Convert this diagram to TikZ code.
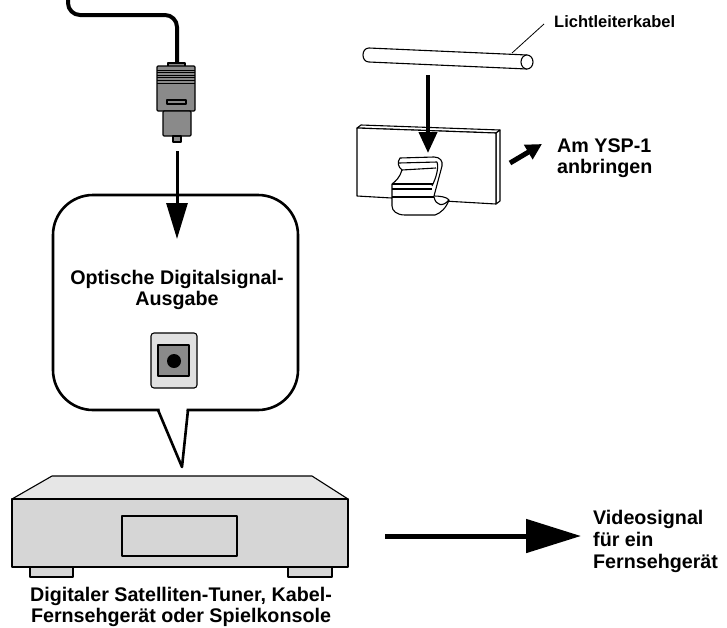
\documentclass[tikz,border=0pt]{standalone}
\usepackage{fontspec}
\setmainfont{Liberation Sans}
\usetikzlibrary{arrows.meta,positioning}
\definecolor{plugfill}{RGB}{138,138,138}
\definecolor{boxfront}{RGB}{214,214,214}
\definecolor{boxtop}{RGB}{230,230,230}
\definecolor{jackfill}{RGB}{224,224,224}
\tikzset{
  hookpic/.style={
    x=1pt
    ,y=-1pt
    ,line join=round
  }
  ,lbl/.style={ inner sep=0pt, align=center
    ,font=\bfseries\fontsize{19.7}{21}\selectfont}
  ,lblleft/.style={lbl, align=left}
  ,lblsmall/.style={ inner sep=0pt, font=\bfseries\fontsize{16.5}{18}\selectfont}
  ,thin/.style={draw=black, line width=1.1pt}
  ,part/.style={thin, fill=white}
  ,cable/.style={line width=4pt, rounded corners=12pt}
  ,plugpart/.style={thin, fill=plugfill}
  ,boxpart/.style={thin, fill=boxfront}
  ,bubble/.style={draw=black, line width=2.6pt, fill=white}
  ,downarrow/.style={line width=3pt, -{Triangle[width=21pt,length=36pt]}}
  ,cliparrow/.style={line width=4pt, -{Triangle[width=18pt,length=21pt]}}
  ,mountarrow/.style={line width=5pt, -{Triangle[width=16pt,length=16pt]}}
  ,videoarrow/.style={line width=5pt, -{Triangle[width=33pt,length=55pt]}}
}

\begin{document}
\begin{tikzpicture}[hookpic]
  \useasboundingbox (0,0) rectangle (727,627);

  % cable coming down into the plug
  \draw[cable] (68,-4) -- (68,15) -- (177,15) -- (177,64);

  % optical plug
  \draw[plugpart] (168,63) rectangle (185,67);
  \draw[plugpart, rounded corners=1pt] (157,66) rectangle (195,111);
  \foreach \y in {70,72.6,75.2,77.8,80.4,83}
    \draw[line width=.8pt] (157,\y) -- (195,\y);
  \draw[plugpart] (167,100) rectangle (186,104);
  \draw[plugpart, rounded corners=1pt] (163,111) rectangle (191,136);
  \draw[plugpart] (173,136) rectangle (181,142);

  % speech bubble with the output jack
  \draw[bubble, rounded corners=40pt] (53,195) rectangle (298,410);
  \fill[white] (159.5,405) -- (159.5,410) -- (182,465) -- (186.5,410) -- (186.5,405) -- cycle;
  \draw[line width=2.6pt] (158,410) -- (182,467) -- (188,410);

  \coordinate (plugend) at (177,151);
  \coordinate (bubbletop) at (177,239);
  \draw[downarrow] (plugend) -- (bubbletop);

  \node[lbl] (outlbl) at (177,290) {Optische Digitalsignal-\\Ausgabe};

  \draw[thin, fill=jackfill, rounded corners=3pt] (151,333) rectangle (197,388);
  \draw[thin, fill=plugfill] (158,345) rectangle (189,376);
  \fill (174,361) circle (7);

  % tuner / set-top box
  \draw[boxpart] (30,567) rectangle (73,577);
  \draw[boxpart] (288,567) rectangle (332,577);
  \draw[thin, fill=boxtop] (12,499) -- (52,476) -- (312,476) -- (348,499) -- cycle;
  \draw[boxpart] (12,499) rectangle (348,567);
  \draw[boxpart] (122,516) rectangle (237,556);

  \node[lbl] (tunerlbl) at (181,607)
    {Digitaler Satelliten-Tuner, Kabel-\\Fernsehger\"at oder Spielkonsole};

  % video output
  \coordinate (videostart) at (385,536);
  \coordinate (videoend) at (581,536);
  \draw[videoarrow] (videostart) -- (videoend);
  \node[lblleft, font=\bfseries\fontsize{19.7}{22}\selectfont, anchor=west] (videolbl) at (593,541)
    {Videosignal\\f\"ur ein\\Fernsehger\"at};

  % fibre cable
  \draw[part] (527,55) -- (369,48) .. controls (361,48) and (361,62) .. (369,62) -- (527,69);
  \draw[part] (527,62) ellipse [x radius=6, y radius=7];
  \node[lblsmall, anchor=west] (kabellbl) at (554,22) {Lichtleiterkabel};
  \coordinate (kabelpt) at (512,53);
  \draw[line width=.8pt] (kabelpt) -- ([xshift=-10pt,yshift=-2pt]kabellbl.west);

  % holder plate
  \draw[part] (357,128) -- (361,125) -- (500,130) -- (496,133) -- cycle;
  \draw[part] (496,133) -- (500,130) -- (500,201) -- (496,204) -- cycle;
  \draw[part] (357,128) -- (496,133) -- (496,204) -- (357,196) -- cycle;

  \coordinate (rodbottom) at (428,75);
  \coordinate (cliptop) at (428,153);
  \draw[cliparrow] (rodbottom) -- (cliptop);

  % clip
  \draw[part] (400,158) -- (434,157) .. controls (440,157) and (443,161) .. (442,166)
    -- (434,196) .. controls (440,196) and (447,197) .. (449,200)
    .. controls (446,208) and (441,213) .. (435,215) -- (405,215)
    .. controls (397,215) and (392,211) .. (392,206) -- (392,184)
    .. controls (396,181) and (400,177) .. (402,170)
    .. controls (398,167) and (397,162) .. (400,158) -- cycle;
  \draw[thin] (399,163) -- (437,162);
  \draw[thin] (402,170) -- (436,168);
  \draw[thin] (437,162) .. controls (439,168) and (436,178) .. (432,186);
  \draw[thin] (392,184) -- (433,184);
  \draw[thin] (392,189) -- (432,189);
  \draw[thin] (392,197) -- (434,197);
  \draw[thin] (434,197) .. controls (436,206) and (443,207) .. (449,200);

  \coordinate (mountstart) at (510,163);
  \coordinate (mountend) at (542,144);
  \draw[mountarrow] (mountstart) -- (mountend);
  \node[lblleft, anchor=west] (mountlbl) at (557,158) {Am YSP-1\\anbringen};
\end{tikzpicture}
\end{document}
